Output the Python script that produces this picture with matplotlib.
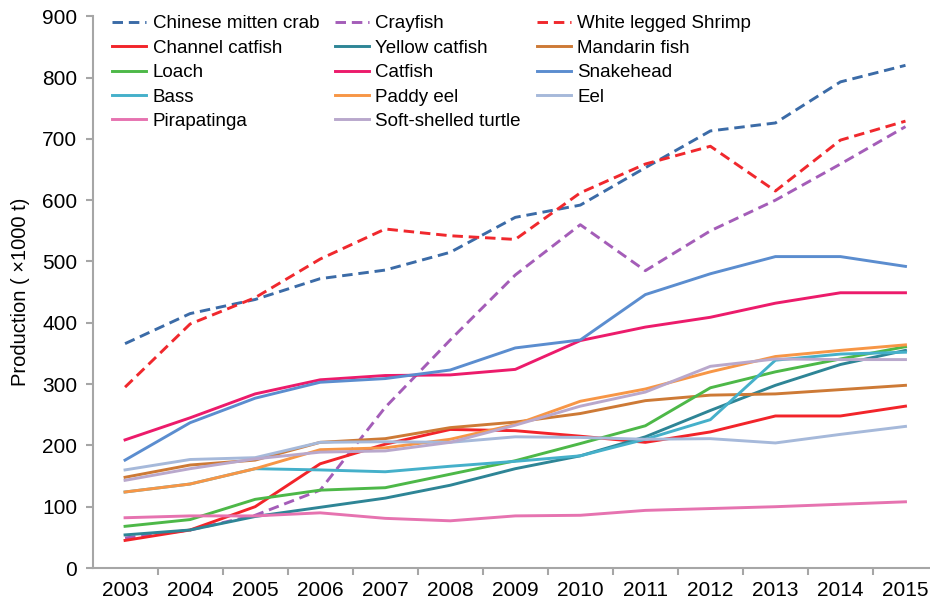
import matplotlib.pyplot as plt
import numpy as np

plt.rcParams['font.family'] = ['Liberation Sans', 'DejaVu Sans']

years = [2003, 2004, 2005, 2006, 2007, 2008, 2009, 2010, 2011, 2012, 2013, 2014, 2015]

# production, x1000 t
mitten_crab = [366, 415, 438, 472, 486, 515, 572, 592, 653, 713, 726, 793, 820]
crayfish = [49, 62, 86, 127, 262, 372, 478, 560, 485, 550, 600, 659, 720]
white_shrimp = [295, 398, 441, 504, 553, 542, 536, 612, 659, 688, 615, 698, 729]
channel_catfish = [45, 62, 100, 170, 202, 226, 224, 215, 205, 222, 248, 248, 264]
yellow_catfish = [54, 62, 84, 99, 114, 135, 162, 183, 214, 257, 298, 332, 355]
mandarin_fish = [148, 168, 176, 205, 211, 229, 238, 252, 273, 282, 284, 291, 298]
loach = [68, 79, 112, 127, 131, 153, 175, 203, 232, 294, 320, 341, 361]
catfish = [209, 245, 284, 307, 314, 315, 324, 371, 393, 409, 432, 449, 449]
snakehead = [176, 237, 277, 303, 309, 323, 359, 372, 446, 480, 508, 508, 492]
bass = [124, 137, 162, 160, 157, 166, 174, 183, 210, 242, 339, 349, 352]
paddy_eel = [124, 137, 162, 193, 196, 210, 234, 272, 292, 320, 345, 355, 364]
eel = [160, 177, 180, 205, 206, 205, 214, 213, 210, 211, 204, 218, 231]
pirapatinga = [82, 85, 85, 90, 81, 77, 85, 86, 94, 97, 100, 104, 108]
turtle = [143, 162, 178, 189, 191, 205, 233, 264, 287, 329, 341, 340, 340]

# name, values, colour, dashed
series = [
    ("Chinese mitten crab", mitten_crab, "#3b6ba7", True),
    ("Crayfish", crayfish, "#a45db8", True),
    ("White legged Shrimp", white_shrimp, "#f0282d", True),
    ("Channel catfish", channel_catfish, "#f2242a", False),
    ("Yellow catfish", yellow_catfish, "#2e8596", False),
    ("Mandarin fish", mandarin_fish, "#cd7a36", False),
    ("Loach", loach, "#4db848", False),
    ("Catfish", catfish, "#ec1b6b", False),
    ("Snakehead", snakehead, "#5b8dcf", False),
    ("Bass", bass, "#45b0ca", False),
    ("Paddy eel", paddy_eel, "#f79646", False),
    ("Eel", eel, "#a6b9da", False),
    ("Pirapatinga", pirapatinga, "#e673b0", False),
    ("Soft-shelled turtle", turtle, "#b9a8cc", False),
]

fig = plt.figure(figsize=(9.3, 6.01), dpi=100)
ax = fig.add_axes([0.0995, 0.0549, 0.9091, 0.918])

handles = []
for name, vals, color, dashed in series:
    if dashed:
        line, = ax.plot(years, vals, color=color, lw=2.1, dashes=(3.6, 2.0), label=name)
    else:
        line, = ax.plot(years, vals, color=color, lw=2.1, label=name)
    handles.append(line)

ax.set_xlim(2002.5, 2015.5)
ax.set_ylim(0, 900)
ax.set_yticks(range(0, 901, 100))
ax.set_xticks(years)
ax.set_xticks(np.arange(2003.5, 2015, 1), minor=True)

grey = "#a6a6a6"
for side in ["top", "right"]:
    ax.spines[side].set_visible(False)
for side in ["left", "bottom"]:
    ax.spines[side].set_color(grey)
    ax.spines[side].set_linewidth(1.5)

ax.tick_params(axis='x', which='major', length=0, pad=9, labelsize=15)
ax.tick_params(axis='x', which='minor', length=5, width=1.5, color=grey, direction='out')
ax.tick_params(axis='y', length=5, width=1.5, color=grey, direction='out', pad=6, labelsize=15)

ax.set_ylabel("Production ( \u00d71000 t)", fontsize=14.5, labelpad=9)

# legend reads across rows, so reorder for matplotlib's column filling
order = [0, 3, 6, 9, 12, 1, 4, 7, 10, 13, 2, 5, 8, 11]
ax.legend([handles[i] for i in order], [handles[i].get_label() for i in order],
          ncol=3, frameon=False, fontsize=13.5, loc='upper left',
          bbox_to_anchor=(0.0235, 1.002), borderpad=0, borderaxespad=0,
          handlelength=1.8, handletextpad=0.35, columnspacing=0.85, labelspacing=0.39)

plt.savefig("out.png", dpi=100)
